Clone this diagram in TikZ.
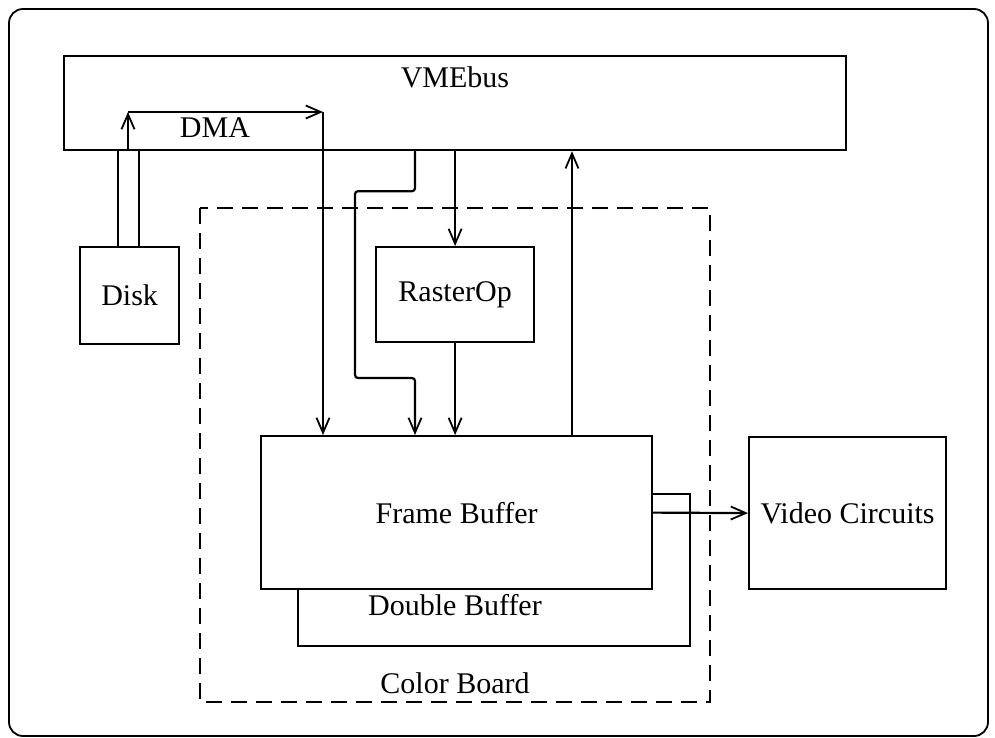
\documentclass[tikz,border=0pt]{standalone}
\usepackage{fontspec}
\setmainfont{Liberation Serif}
\usetikzlibrary{arrows.meta,calc}
\begin{document}
\begin{tikzpicture}[x=1pt,y=-1pt,
  every node/.style={font=\fontsize{30}{34}\selectfont, inner sep=0pt},
  box/.style={draw, line width=2.2pt, fill=white, anchor=north west},
  wire/.style={line width=2.2pt},
  arr/.style={wire, -{Straight Barb[length=15pt,width=13pt,line width=1.8pt]}},
  board/.style={draw, line width=2.6pt, dash pattern=on 16pt off 9pt}]
\useasboundingbox (0,0) rectangle (995,738);
% outer frame
\draw[line width=1.8pt, rounded corners=14pt] (9,9) rectangle (988,736);
% Color Board
\draw[board] (200,208) rectangle (710,702);
\node (cblabel) at (455,683) {Color Board};
% boxes
\node[box, minimum width=782pt, minimum height=94pt] (vme) at (63,55) {};
\node (vmelabel) at (455,77) {VMEbus};
\node[box, minimum width=99pt, minimum height=97pt] (disk) at (79,246) {Disk};
\node[box, minimum width=158pt, minimum height=95pt] (rop) at (375,246) {RasterOp};
\node[box, minimum width=392pt, minimum height=152pt] (db) at (297,493) {};
\node (dblabel) at (455,605) {Double Buffer};
\node[box, minimum width=391pt, minimum height=153pt] (fb) at (260,435) {Frame Buffer};
\node[box, minimum width=197pt, minimum height=152pt] (vc) at (748,436) {Video Circuits};
% helper coordinates
\coordinate (xa) at (118,0);
\coordinate (xb) at (139,0);
\coordinate (xc) at (128,0);
\coordinate (dmaend) at (323,112);
\coordinate (xz) at (415,0);
\coordinate (xzl) at (355,0);
\coordinate (xup) at (572,0);
% Disk to VMEbus
\draw[wire] (disk.north -| xa) -- (vme.south -| xa);
\draw[wire] (disk.north -| xb) -- (vme.south -| xb);
% DMA
\draw[arr] (vme.south -| xc) -- (xc |- dmaend);
\draw[arr] (xc |- dmaend) -- (dmaend);
\node (dmatext) at (215,128) {DMA};
\draw[arr] (dmaend) -- (dmaend |- fb.north);
% zigzag
\draw[arr, rounded corners=3pt] (vme.south -| xz) -- ($(vme.south -| xz)+(0,40)$) -- ($(vme.south -| xzl)+(0,40)$) -- ($(xzl |- fb.north)+(0,-57)$) -- ($(xz |- fb.north)+(0,-57)$) -- (xz |- fb.north);
% RasterOp
\draw[arr] (vme.south -| rop.north) -- (rop.north);
\draw[arr] (rop.south) -- (rop.south |- fb.north);
% up to VMEbus
\draw[arr] (fb.north -| xup) -- (vme.south -| xup);
% to video
\draw[arr] (fb.east) -- (vc.west);
\end{tikzpicture}
\end{document}
